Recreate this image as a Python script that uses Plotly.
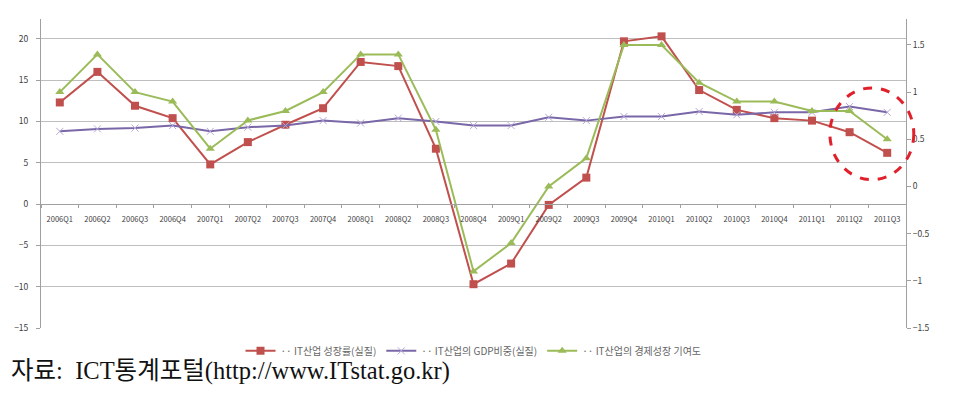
import plotly.graph_objects as go

categories = ["2006Q1","2006Q2","2006Q3","2006Q4","2007Q1","2007Q2","2007Q3","2007Q4",
              "2008Q1","2008Q2","2008Q3","2008Q4","2009Q1","2009Q2","2009Q3","2009Q4",
              "2010Q1","2010Q2","2010Q3","2010Q4","2011Q1","2011Q2","2011Q3"]

it_growth = [12.3, 16.0, 11.9, 10.4, 4.8, 7.5, 9.6, 11.6, 17.2, 16.7, 6.7, -9.7, -7.2,
             -0.1, 3.2, 19.7, 20.3, 13.8, 11.4, 10.4, 10.1, 8.7, 6.2]
gdp_share = [8.8, 9.1, 9.2, 9.5, 8.8, 9.3, 9.5, 10.1, 9.8, 10.4, 10.0, 9.5, 9.5,
             10.5, 10.1, 10.6, 10.6, 11.2, 10.8, 11.1, 11.1, 11.8, 11.1]
contribution = [1.0, 1.4, 1.0, 0.9, 0.4, 0.7, 0.8, 1.0, 1.4, 1.4, 0.6, -0.9, -0.6,
                0.0, 0.3, 1.5, 1.5, 1.1, 0.9, 0.9, 0.8, 0.8, 0.5]

names = ["·· IT산업 성장률(실질)", "·· IT산업의 GDP비중(실질)", "·· IT산업의 경제성장 기여도"]
left_ticks = [-15, -10, -5, 0, 5, 10, 15, 20]
right_ticks = [-1.5, -1, -0.5, 0, 0.5, 1, 1.5]
source_text = "자료:  ICT통계포털(http://www.ITstat.go.kr)"

y_range = [-15, 22.4]
y2_range = [-1.5, 1.775]

fig = go.Figure()
fig.add_trace(go.Scatter(x=categories, y=it_growth, name=names[0], mode="lines+markers",
                         line=dict(color="#C0504D", width=2),
                         marker=dict(symbol="square", size=8, color="#C0504D")))
fig.add_trace(go.Scatter(x=categories, y=gdp_share, name=names[1], mode="lines+markers",
                         line=dict(color="#7A67A8", width=2),
                         marker=dict(symbol="x-thin-open", size=7,
                                     line=dict(color="#B6A8D6", width=1), color="#B6A8D6")))
fig.add_trace(go.Scatter(x=categories, y=contribution, name=names[2], mode="lines+markers",
                         yaxis="y2",
                         line=dict(color="#9BBB59", width=2),
                         marker=dict(symbol="triangle-up", size=8, color="#9BBB59")))

zero_pos = (0 - y_range[0]) / (y_range[1] - y_range[0])

fig.update_layout(
    width=964, height=411,
    margin=dict(l=41, r=58, t=19, b=82.5),
    paper_bgcolor="white", plot_bgcolor="white",
    font=dict(family="Noto Sans CJK KR, Noto Sans", color="#404040"),
    xaxis=dict(type="category", anchor="free", position=zero_pos,
               showline=True, linecolor="#A0A0A0", linewidth=1,
               showgrid=False, ticks="outside", ticklen=3, tickcolor="#A0A0A0",
               tickson="boundaries", tickangle=0, ticklabelstandoff=8,
               tickfont=dict(size=7.5, color="#404040"),
               range=[-0.5, len(categories) - 0.5], fixedrange=True),
    yaxis=dict(range=y_range, tickvals=left_ticks, showgrid=True, gridcolor="#BEBEBE",
               gridwidth=1, zeroline=False, showline=True, linecolor="#A0A0A0",
               ticks="outside", ticklen=4, tickcolor="#A0A0A0", ticklabelstandoff=6,
               tickfont=dict(size=8.5, color="#404040")),
    yaxis2=dict(range=y2_range, tickvals=right_ticks, overlaying="y", side="right",
                showgrid=False, zeroline=False, showline=True, linecolor="#A0A0A0",
                ticks="outside", ticklen=4, tickcolor="#A0A0A0",
                tickfont=dict(size=8.5, color="#404040")),
    legend=dict(orientation="h", x=0.5, xanchor="center", y=-0.074, yanchor="middle",
                font=dict(size=10, color="#666666"), itemwidth=30, bgcolor="rgba(0,0,0,0)"),
    showlegend=True,
)

fig.add_shape(type="circle", xref="paper", yref="paper",
              x0=0.912, x1=1.009, y0=0.48, y1=0.777,
              line=dict(color="#E0202A", width=3, dash="dash"))

fig.add_annotation(text=source_text, xref="paper", yref="paper",
                   x=-32/865, y=(328.5 - 372) / 309.5, xanchor="left", yanchor="middle",
                   showarrow=False,
                   font=dict(family="Liberation Serif, Noto Sans CJK KR", size=24.5, color="#111111"))

fig.write_html("out.html")
